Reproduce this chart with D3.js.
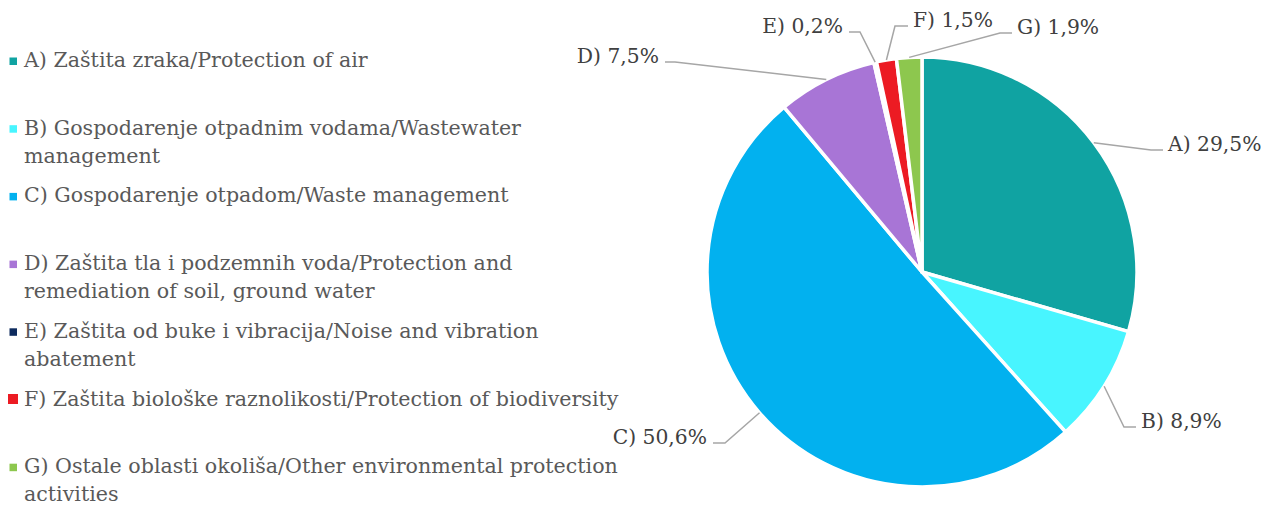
<!DOCTYPE html>
<html>
<head>
<meta charset="utf-8">
<script src="https://cdn.jsdelivr.net/npm/d3@7"></script>
<style>
  html, body { margin: 0; padding: 0; background: #fff; }
  svg { display: block; }
  .leg text { font-family: "DejaVu Serif", serif; fill: #595959; }
  .lbl text { font-family: "DejaVu Serif", serif; fill: #404040; }
</style>
</head>
<body>
<svg id="chart" width="1271" height="506"></svg>
<script>
// ---- data ----
const codes = ["A)", "B)", "C)", "D)", "E)", "F)", "G)"];
const legendLines = [
  ["A) Zaštita zraka/Protection of air"],
  ["B) Gospodarenje otpadnim vodama/Wastewater", "management"],
  ["C) Gospodarenje otpadom/Waste management"],
  ["D) Zaštita tla i podzemnih voda/Protection and", "remediation of soil, ground water"],
  ["E) Zaštita od buke i vibracija/Noise and vibration", "abatement"],
  ["F) Zaštita biološke raznolikosti/Protection of biodiversity"],
  ["G) Ostale oblasti okoliša/Other environmental protection", "activities"]
];
const values = [29.5, 8.9, 50.6, 7.5, 0.2, 1.5, 1.9];
const colors = ["#10a3a2", "#48f5ff", "#02b1ef", "#a875d6", "#0e2b5e", "#ec1b23", "#8dc74e"];

// ---- layout (label elbow/end offsets from pie centre) ----
const labelLayout = [
  {ex: 229, ey: -122, end: 241},
  {ex: 202, ey: 155, end: 214},
  {ex: -197, ey: 171, end: -209},
  {ex: -247, ey: -210, end: -257},
  {ex: -62, ey: -240, end: -73},
  {ex: -27, ey: -246, end: -14},
  {ex: 78, ey: -239, end: 90}
];

const svg = d3.select("#chart");
const cx = 922, cy = 272, R = 215;
const fmt = v => d3.format(".1f")(v).replace(".", ",") + "%";

const pie = d3.pie().sort(null).value(d => d)(values);
const arc = d3.arc().innerRadius(0).outerRadius(R);

const g = svg.append("g").attr("transform", `translate(${cx},${cy})`);
g.selectAll("path.slice").data(pie).join("path")
  .attr("class", "slice")
  .attr("d", arc)
  .attr("fill", (d, i) => colors[i])
  .attr("stroke", "#fff")
  .attr("stroke-width", 3.5)
  .attr("stroke-linejoin", "round");

// leader lines + labels
const lbl = g.append("g").attr("class", "lbl");
pie.forEach((d, i) => {
  const L = labelLayout[i];
  const a = (d.startAngle + d.endAngle) / 2;
  const sx = R * Math.sin(a), sy = -R * Math.cos(a);
  lbl.append("polyline")
    .attr("points", [[sx, sy], [L.ex, L.ey], [L.end, L.ey]].map(p => p.join(",")).join(" "))
    .attr("fill", "none").attr("stroke", "#a6a6a6").attr("stroke-width", 1.5);
  const right = L.end > L.ex;
  lbl.append("text")
    .attr("x", right ? L.end + 5 : L.end - 6)
    .attr("y", L.ey + 1)
    .attr("text-anchor", right ? "start" : "end")
    .attr("font-size", 20.3)
    .text(codes[i] + " " + fmt(d.data));
});

// legend
const leg = svg.append("g").attr("class", "leg");
const slot = 67.7, lineH = 28, y0 = 67;
legendLines.forEach((lines, i) => {
  const y = y0 + i * slot;
  const big = i === 5;
  const s = big ? 10 : 7.5;
  leg.append("rect")
    .attr("x", big ? 8 : 9.5).attr("y", y - 9.5 - (big ? 2 : 0))
    .attr("width", s).attr("height", s)
    .attr("fill", colors[i]);
  const t = leg.append("text").attr("x", 24).attr("y", y).attr("font-size", 20.6);
  lines.forEach((ln, j) => {
    t.append("tspan").attr("x", 24).attr("y", y + j * lineH).text(ln);
  });
});
</script>
</body>
</html>
